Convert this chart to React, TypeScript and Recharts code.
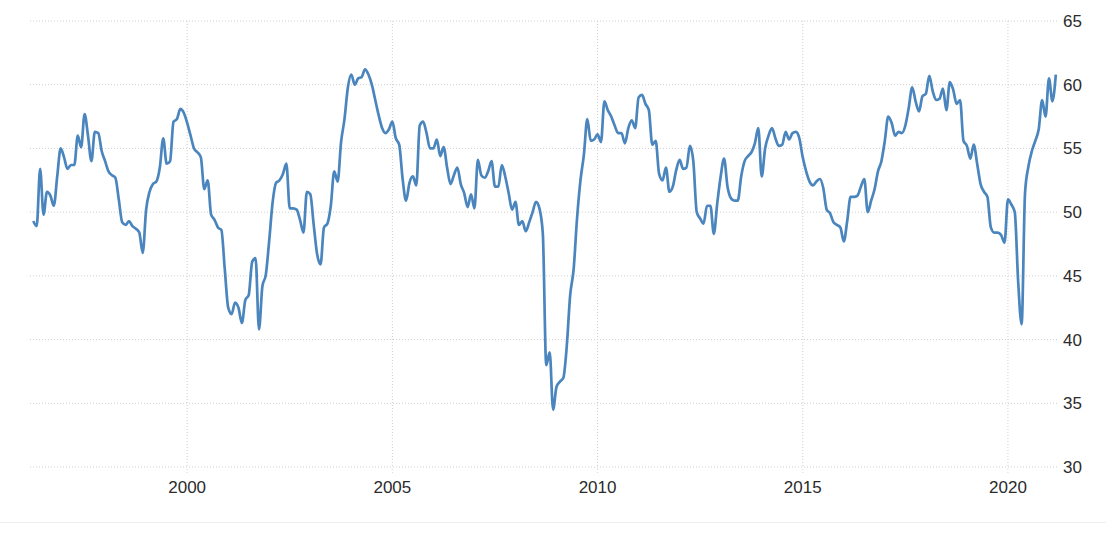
import React from "react";
import { LineChart, Line, XAxis, YAxis, CartesianGrid } from "recharts";

// First observation: March 1996 (month-end), monthly through February 2021
const startYear = 1996;
const startMonth = 3;

const pmi1996to2000 = [
  49.3, 48.9, 53.4, 49.8, 51.6, 51.3, 50.5, 52.8, 55.0, 54.3,
  53.4, 53.7, 53.7, 56.0, 55.1, 57.7, 56.0, 54.0, 56.3, 56.2,
  54.8, 54.0, 53.2, 52.9, 52.7, 51.0, 49.2, 49.0, 49.3, 48.9,
  48.7, 48.4, 46.8, 50.2, 51.6, 52.2, 52.4, 53.5, 55.8, 53.8,
  54.0, 57.1, 57.3, 58.1, 57.8, 57.0, 56.0, 55.0, 54.7, 54.3,
  51.8, 52.5, 49.8, 49.4, 48.8, 48.6, 45.5, 42.5,
];
const pmi2001to2005 = [
  42.0, 42.9, 42.5, 41.3, 43.1, 43.5, 46.1, 46.4, 40.8, 44.2,
  45.1, 47.8, 50.8, 52.3, 52.5, 53.0, 53.8, 50.3, 50.3, 50.2,
  49.4, 48.4, 51.6, 51.4, 49.0, 46.7, 45.9, 48.8, 49.1, 50.5,
  53.2, 52.4, 55.5, 57.3, 59.8, 60.8, 60.0, 60.5, 60.6, 61.2,
  60.8, 60.0, 58.8, 57.6, 56.6, 56.2, 56.5, 57.1, 55.8, 55.3,
  52.6, 50.9, 52.3, 52.8, 52.1, 56.8, 57.1, 56.2, 55.0, 55.0,
];
const pmi2006to2010 = [
  55.7, 54.4, 55.1, 53.5, 52.2, 52.9, 53.5, 52.2, 51.5, 50.4,
  51.4, 50.3, 54.1, 52.9, 52.7, 53.2, 54.0, 52.0, 52.0, 53.7,
  52.8, 51.5, 50.2, 50.8, 49.0, 49.3, 48.5, 49.2, 50.0, 50.8,
  50.3, 48.3, 38.0, 39.0, 34.5, 36.3, 36.7, 37.0, 39.5, 43.5,
  45.5, 49.5, 52.5, 54.5, 57.3, 55.6, 55.7, 56.1, 55.5, 58.7,
  58.0, 57.5, 56.8, 56.2, 56.2, 55.4, 56.6, 57.2, 56.6, 59.0,
];
const pmi2011to2015 = [
  59.2, 58.5, 58.0, 55.3, 55.6, 53.0, 52.5, 53.5, 51.6, 52.0,
  53.3, 54.1, 53.4, 53.5, 55.2, 54.0, 50.0, 49.5, 49.1, 50.5,
  50.5, 48.3, 50.7, 52.8, 54.2, 52.0, 51.1, 50.9, 50.9, 52.8,
  54.0, 54.4, 54.7, 55.4, 56.6, 52.8, 55.0, 56.0, 56.6, 55.8,
  55.2, 55.3, 56.3, 55.7, 56.2, 56.3, 55.8, 54.3, 53.2, 52.4,
  52.1, 52.4, 52.6, 51.9, 50.2, 49.9, 49.2, 49.0, 48.8, 47.7,
];
const pmi2016to2021 = [
  49.3, 51.2, 51.2, 51.3, 52.0, 52.6, 50.0, 50.9, 51.8, 53.2,
  54.0, 55.6, 57.5, 57.0, 56.0, 56.3, 56.2, 56.8, 58.2, 59.8,
  58.7, 57.9, 59.1, 59.3, 60.7, 59.5, 58.8, 58.9, 59.7, 58.0,
  60.2, 59.6, 58.5, 58.8, 55.6, 55.2, 54.2, 55.3, 53.8, 52.2,
  51.6, 51.2, 48.8, 48.4, 48.4, 48.2, 47.6, 51.0, 50.6, 50.0,
  44.5, 41.2, 51.5, 53.6, 54.8, 55.6, 56.5, 58.8, 57.5, 60.5,
  58.7, 60.8,
];

const xTicks = [2000, 2005, 2010, 2015, 2020];
const yTicks = [30, 35, 40, 45, 50, 55, 60, 65];
const xDomain: [number, number] = [1996.17, 2021.22];

const pmiValues = [
  ...pmi1996to2000,
  ...pmi2001to2005,
  ...pmi2006to2010,
  ...pmi2011to2015,
  ...pmi2016to2021,
];

const data = pmiValues.map((v, i) => ({
  t: startYear + (startMonth + i) / 12,
  value: v,
}));

const tickStyle = {
  fill: "#2b2b2b",
  fontSize: 17,
  fontFamily: "'Liberation Sans', Arial, sans-serif",
};

const verticalGen = (props: any) => {
  const off = props.offset || {};
  const left = off.left ?? 30;
  const w = off.width ?? 1028;
  return xTicks.map(
    (t) => left + ((t - xDomain[0]) / (xDomain[1] - xDomain[0])) * w
  );
};

export default function App() {
  return (
    <div
      style={{
        position: "fixed",
        left: 0,
        top: 0,
        width: 1106,
        height: 545,
        background: "#fff",
        overflow: "hidden",
      }}
    >
      <LineChart
        width={1106}
        height={545}
        data={data}
        margin={{ top: 21, right: 0, left: 30, bottom: 48 }}
      >
        <CartesianGrid
          stroke="#cfcfcf"
          strokeDasharray="1 2"
          verticalCoordinatesGenerator={verticalGen}
        />
        <XAxis
          dataKey="t"
          type="number"
          domain={xDomain}
          ticks={xTicks}
          allowDataOverflow
          axisLine={false}
          tickLine={{ stroke: "#d6d6d6", strokeDasharray: "1 2" }}
          tickSize={6}
          tickMargin={8}
          height={30}
          tick={tickStyle}
          interval={0}
        />
        <YAxis
          orientation="right"
          type="number"
          domain={[30, 65]}
          ticks={yTicks}
          axisLine={false}
          tickLine={false}
          tickSize={0}
          tickMargin={5}
          width={48}
          tick={{ ...tickStyle, textAnchor: "start" }}
          interval={0}
        />
        <Line
          type="monotone"
          dataKey="value"
          stroke="#4a85be"
          strokeWidth={2.7}
          dot={false}
          activeDot={false}
          isAnimationActive={false}
        />
      </LineChart>
      <div
        style={{
          position: "absolute",
          left: 0,
          top: 522,
          width: 1106,
          height: 1,
          background: "#ededed",
        }}
      />
    </div>
  );
}
